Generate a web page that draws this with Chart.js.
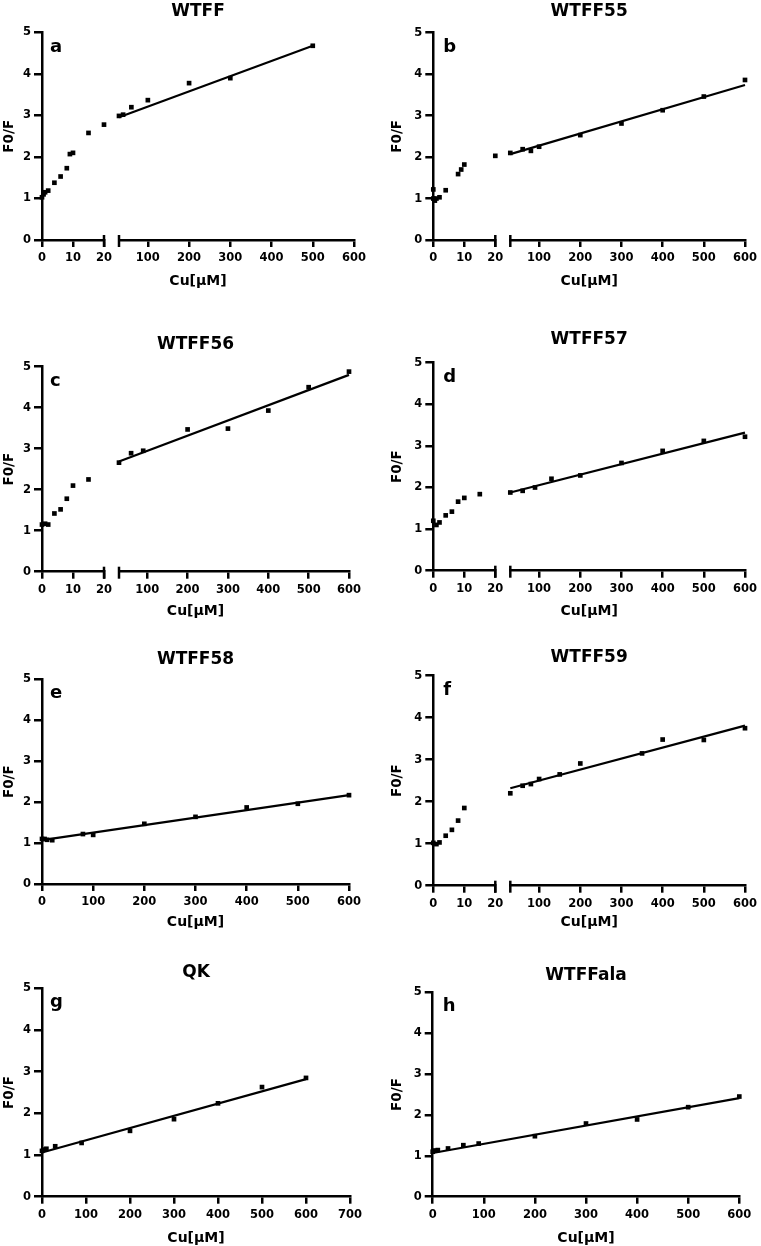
<!DOCTYPE html>
<html>
<head>
<meta charset="utf-8">
<title>F0/F vs Cu</title>
<script src="https://cdn.jsdelivr.net/npm/chart.js@4.4.1/dist/chart.umd.min.js"></script>
<style>
  html, body { margin: 0; padding: 0; background: #fff; }
  #fig { position: relative; width: 761px; height: 1246px; overflow: hidden; background: #fff; }
  #fig canvas { position: absolute; }
</style>
</head>
<body>
<div id="fig"></div>
<script>
// ---------- data ----------
const yTicks = [0, 1, 2, 3, 4, 5];
const lowTicks = [0, 10, 20];
const highTicks = [100, 200, 300, 400, 500, 600];
const fullTicks = [0, 100, 200, 300, 400, 500, 600];
const qkTicks = [0, 100, 200, 300, 400, 500, 600, 700];

// a  WTFF
const wtffLowX = [0, 0.5, 1, 2, 4, 6, 8, 9, 10, 15, 20];
const wtffLowY = [1.03, 1.1, 1.15, 1.19, 1.38, 1.53, 1.73, 2.07, 2.1, 2.58, 2.78];
const wtffHighX = [30, 40, 60, 100, 200, 300, 500];
const wtffHighY = [2.99, 3.02, 3.2, 3.37, 3.78, 3.9, 4.68];
const wtffFitX = [30, 500];
const wtffFitY = [2.96, 4.68];

// b  WTFF55
const w55LowX = [0, 0, 0.5, 1, 2, 4, 8, 9, 10, 20];
const w55LowY = [1.22, 1.0, 0.95, 1.0, 1.03, 1.2, 1.59, 1.7, 1.82, 2.03];
const w55HighX = [30, 60, 80, 100, 200, 300, 400, 500, 600];
const w55HighY = [2.1, 2.19, 2.15, 2.25, 2.53, 2.81, 3.13, 3.46, 3.86];
const w55FitX = [30, 600];
const w55FitY = [2.07, 3.74];

// c  WTFF56
const w56LowX = [0, 1, 2, 4, 6, 8, 10, 15];
const w56LowY = [1.15, 1.17, 1.15, 1.42, 1.52, 1.78, 2.1, 2.25];
const w56HighX = [30, 60, 90, 200, 300, 400, 500, 600];
const w56HighY = [2.66, 2.89, 2.95, 3.47, 3.49, 3.93, 4.5, 4.88];
const w56FitX = [30, 600];
const w56FitY = [2.69, 4.8];

// d  WTFF57
const w57LowX = [0, 1, 2, 4, 6, 8, 10, 15];
const w57LowY = [1.2, 1.1, 1.16, 1.33, 1.42, 1.66, 1.75, 1.84];
const w57HighX = [30, 60, 90, 130, 200, 300, 400, 500, 600];
const w57HighY = [1.88, 1.92, 2.0, 2.21, 2.29, 2.59, 2.88, 3.12, 3.22];
const w57FitX = [30, 600];
const w57FitY = [1.88, 3.32];

// e  WTFF58
const w58X = [0, 5, 10, 20, 80, 100, 200, 300, 400, 500, 600];
const w58Y = [1.1, 1.1, 1.08, 1.07, 1.22, 1.2, 1.47, 1.64, 1.87, 1.96, 2.17];
const w58FitX = [0, 600];
const w58FitY = [1.07, 2.17];

// f  WTFF59
const w59LowX = [0, 1, 2, 4, 6, 8, 10];
const w59LowY = [1.02, 0.99, 1.03, 1.19, 1.33, 1.55, 1.85];
const w59HighX = [30, 60, 80, 100, 150, 200, 350, 400, 500, 600];
const w59HighY = [2.2, 2.38, 2.42, 2.54, 2.65, 2.91, 3.15, 3.48, 3.47, 3.75];
const w59FitX = [30, 600];
const w59FitY = [2.32, 3.81];

// g  QK
const qkX = [0, 5, 10, 30, 90, 200, 300, 400, 500, 600];
const qkY = [1.1, 1.13, 1.15, 1.21, 1.29, 1.58, 1.86, 2.24, 2.63, 2.85];
const qkFitX = [0, 600];
const qkFitY = [1.06, 2.82];

// h  WTFFala
const alaX = [0, 5, 10, 30, 60, 90, 200, 300, 400, 500, 600];
const alaY = [1.1, 1.13, 1.14, 1.18, 1.26, 1.3, 1.48, 1.79, 1.89, 2.19, 2.45];
const alaFitX = [0, 600];
const alaFitY = [1.07, 2.41];

const panels = [
  {title: 'WTFF', letter: 'a', lowX: wtffLowX, lowY: wtffLowY, highX: wtffHighX, highY: wtffHighY, fitX: wtffFitX, fitY: wtffFitY},
  {title: 'WTFF55', letter: 'b', lowX: w55LowX, lowY: w55LowY, highX: w55HighX, highY: w55HighY, fitX: w55FitX, fitY: w55FitY},
  {title: 'WTFF56', letter: 'c', lowX: w56LowX, lowY: w56LowY, highX: w56HighX, highY: w56HighY, fitX: w56FitX, fitY: w56FitY},
  {title: 'WTFF57', letter: 'd', lowX: w57LowX, lowY: w57LowY, highX: w57HighX, highY: w57HighY, fitX: w57FitX, fitY: w57FitY},
  {title: 'WTFF58', letter: 'e', x: w58X, y: w58Y, ticks: fullTicks, fitX: w58FitX, fitY: w58FitY},
  {title: 'WTFF59', letter: 'f', lowX: w59LowX, lowY: w59LowY, highX: w59HighX, highY: w59HighY, fitX: w59FitX, fitY: w59FitY},
  {title: 'QK', letter: 'g', x: qkX, y: qkY, ticks: qkTicks, fitX: qkFitX, fitY: qkFitY},
  {title: 'WTFFala', letter: 'h', x: alaX, y: alaY, ticks: fullTicks, fitX: alaFitX, fitY: alaFitY}
];

// ---------- layout (page pixels) ----------
// tc: title centre, top/bottom: plot area, ax: y axis, rx: x axis end, cu: x title centre
const layout = [
  {col: 0, tc: 12,    top: 32.5,  bottom: 240,    ax: 42,    rx: 354,   cu: 281},
  {col: 1, tc: 12,    top: 32.7,  bottom: 240,    ax: 433.3, rx: 745,   cu: 281},
  {col: 0, tc: 344.5, top: 366.7, bottom: 571.7,  ax: 42,    rx: 349,   cu: 611},
  {col: 1, tc: 339.5, top: 362.7, bottom: 570.7,  ax: 433.3, rx: 745,   cu: 611},
  {col: 0, tc: 659.5, top: 679.3, bottom: 884,    ax: 42,    rx: 349,   cu: 922},
  {col: 1, tc: 658,   top: 675.7, bottom: 885.7,  ax: 433.3, rx: 745,   cu: 922},
  {col: 0, tc: 973,   top: 988.3, bottom: 1196.7, ax: 42,    rx: 350,   cu: 1238},
  {col: 1, tc: 976,   top: 992.3, bottom: 1196.7, ax: 432.7, rx: 739.3, cu: 1238}
];

Chart.defaults.font.family = "'DejaVu Sans', sans-serif";
Chart.defaults.font.weight = 'bold';
Chart.defaults.color = '#000';

function pts(xs, ys) {
  return xs.map(function (x, i) { return {x: x, y: ys[i]}; });
}
function setTicks(vals) {
  return function (s) { s.ticks = vals.map(function (v) { return {value: v}; }); };
}

// panel letter + axis break bars
const decor = {
  id: 'decor',
  afterDraw(chart, args, opts) {
    const ctx = chart.ctx, area = chart.chartArea;
    ctx.save();
    ctx.fillStyle = '#000';
    ctx.font = "bold 18px 'DejaVu Sans'";
    ctx.textAlign = 'left';
    ctx.textBaseline = 'alphabetic';
    ctx.fillText(opts.letter, area.left + opts.dx, area.top + 19);
    if (chart.scales.x2) {
      ctx.strokeStyle = '#000';
      ctx.lineWidth = 2.5;
      [chart.scales.x.right, chart.scales.x2.left].forEach(function (px) {
        ctx.beginPath();
        ctx.moveTo(px, area.bottom - 5);
        ctx.lineTo(px, area.bottom + 7);
        ctx.stroke();
      });
    }
    ctx.restore();
  }
};

const fig = document.getElementById('fig');
const border = {display: true, color: '#000', width: 2.5};
const tickFont = {size: 11.5, weight: 'bold'};
const xTickOpts = {font: tickFont, padding: 4, color: '#000', maxRotation: 0, minRotation: 0, autoSkip: false};
const hidden = {border: {display: false}, grid: {display: false}, ticks: {display: false}};
function tickGrid(len) {
  return {display: true, drawOnChartArea: false, drawTicks: true, tickLength: len,
          tickWidth: 2.5, tickColor: '#000', lineWidth: 2.5, color: '#000'};
}
const mark = {pointStyle: 'rect', pointRadius: 3.3, pointBackgroundColor: '#000',
              pointBorderWidth: 0, showLine: false, clip: false};

panels.forEach(function (p, i) {
  const g = layout[i];
  const cx = g.col ? 380 : 0;
  const cw = g.col ? 381 : 380;
  const cy = Math.floor(g.tc - 10.2);
  const ch = Math.ceil(g.cu + 8.4) - cy;
  const xh = cy + ch - g.bottom;
  const segH = 26;
  const yTitleX = g.col ? 397.5 : 9;

  const c = document.createElement('canvas');
  c.width = cw;
  c.height = ch;
  c.style.left = cx + 'px';
  c.style.top = cy + 'px';
  fig.appendChild(c);

  const xTitle = {display: true, text: 'Cu[µM]', color: '#000', font: {size: 14, weight: 'bold'},
                  padding: {top: 0, bottom: cy + ch - g.cu - 8.4}};

  const scales = {
    y: {type: 'linear', position: 'left', min: 0, max: 5,
        afterBuildTicks: setTicks(yTicks),
        afterFit: function (s) { s.width = g.ax - cx; },
        border: border, grid: tickGrid(8),
        ticks: {font: tickFont, padding: 3, color: '#000'},
        title: {display: true, text: 'F0/F', color: '#000', font: {size: 13.5, weight: 'bold'},
                padding: {top: yTitleX - cx - 8.1, bottom: 0}}}
  };

  let datasets;
  if (p.highX) {
    const w1 = 62, w2 = 15, w3 = g.rx - g.ax - w1 - w2;
    scales.x = {type: 'linear', position: 'bottom', stack: 'cu', stackWeight: w1, weight: 1,
                min: 0, max: 20, afterBuildTicks: setTicks(lowTicks),
                afterFit: function (s) { s.height = segH; },
                border: border, grid: tickGrid(7), ticks: xTickOpts};
    scales.gap = Object.assign({type: 'linear', position: 'bottom', stack: 'cu', stackWeight: w2, weight: 2,
                min: 0, max: 1, afterFit: function (s) { s.height = segH; }}, hidden);
    scales.x2 = {type: 'linear', position: 'bottom', stack: 'cu', stackWeight: w3, weight: 3,
                min: 30, max: 600, afterBuildTicks: setTicks(highTicks),
                afterFit: function (s) { s.height = segH; },
                border: border, grid: tickGrid(7), ticks: xTickOpts};
    scales.xt = Object.assign({type: 'linear', position: 'bottom', weight: 10, min: 0, max: 1,
                afterFit: function (s) { s.height = xh - segH; }, title: xTitle}, hidden);
    datasets = [
      Object.assign({data: pts(p.lowX, p.lowY), xAxisID: 'x', yAxisID: 'y'}, mark),
      Object.assign({data: pts(p.highX, p.highY), xAxisID: 'x2', yAxisID: 'y'}, mark),
      {data: pts(p.fitX, p.fitY), xAxisID: 'x2', yAxisID: 'y', showLine: true, clip: false,
       borderColor: '#000', borderWidth: 2.2, pointRadius: 0}
    ];
  } else {
    const ticks = p.ticks;
    scales.x = {type: 'linear', position: 'bottom', min: 0, max: ticks[ticks.length - 1],
                afterBuildTicks: setTicks(ticks),
                afterFit: function (s) { s.height = xh; },
                border: border, grid: tickGrid(7), ticks: xTickOpts,
                title: xTitle};
    datasets = [
      Object.assign({data: pts(p.x, p.y), xAxisID: 'x', yAxisID: 'y'}, mark),
      {data: pts(p.fitX, p.fitY), xAxisID: 'x', yAxisID: 'y', showLine: true, clip: false,
       borderColor: '#000', borderWidth: 2.2, pointRadius: 0}
    ];
  }

  new Chart(c, {
    type: 'scatter',
    data: {datasets: datasets},
    options: {
      responsive: false,
      animation: false,
      events: [],
      layout: {padding: {left: 0, top: 0, bottom: 0, right: cx + cw - g.rx}},
      scales: scales,
      plugins: {
        legend: {display: false},
        tooltip: {enabled: false},
        title: {display: true, text: p.title, fullSize: false, color: '#000',
                font: {size: 17, weight: 'bold'},
                padding: {top: g.tc - 10.2 - cy, bottom: g.top - g.tc - 10.2}},
        decor: {letter: p.letter, dx: g.col ? 10 : 8}
      }
    },
    plugins: [decor]
  });
});
</script>
</body>
</html>
